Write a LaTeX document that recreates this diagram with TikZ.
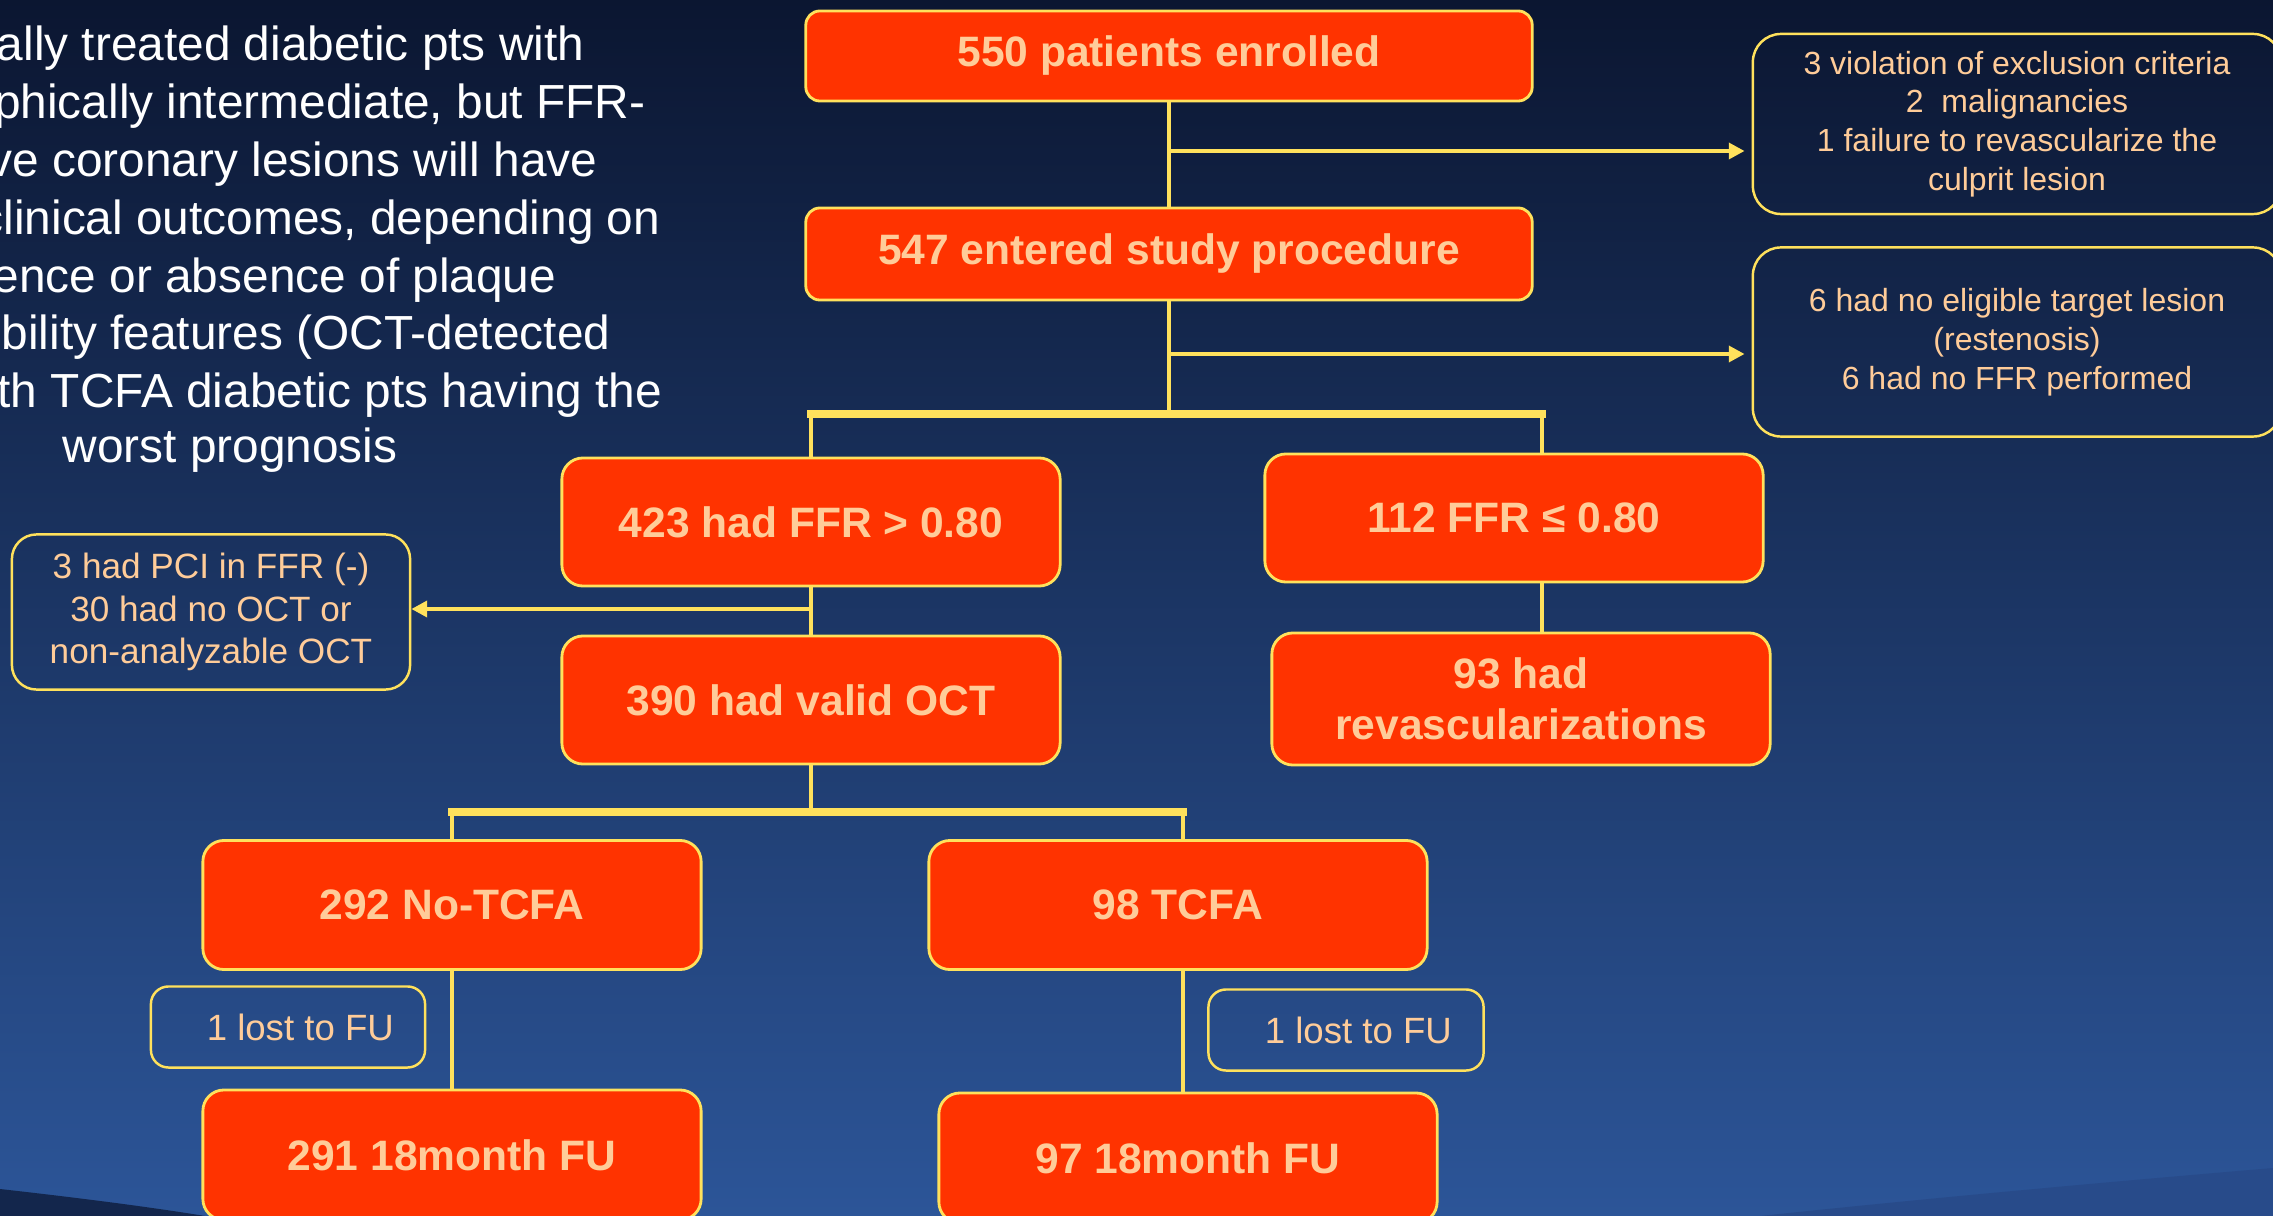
\documentclass[tikz,border=0pt]{standalone}
\usepackage{fontspec}
\setmainfont{Liberation Sans}
\usetikzlibrary{arrows.meta}

\definecolor{boxorange}{HTML}{FF3300}
\definecolor{lineyellow}{HTML}{FFE15C}
\definecolor{peach}{HTML}{FFCC99}
\definecolor{bgtop}{HTML}{0B1631}
\definecolor{bgmid}{HTML}{1A2E5C}
\definecolor{bgbot}{HTML}{2C5598}
\definecolor{bgdark}{HTML}{13264C}
\definecolor{bgband}{HTML}{284B8A}

\tikzset{
  countbox/.style={rectangle, rounded corners=6pt, fill=boxorange, draw=lineyellow,
    line width=0.8pt, text=peach, font=\bfseries\fontsize{12.1}{14.5}\selectfont,
    align=center, inner sep=0pt, minimum width=4.98cm, minimum height=1.28cm},
  notebox/.style={rectangle, rounded corners=8pt, draw=lineyellow, line width=0.7pt,
    text=peach, align=center, inner sep=0pt},
  flowline/.style={draw=lineyellow, line width=1.2pt},
  splitbar/.style={draw=lineyellow, line width=2pt, line cap=rect},
  exitarrow/.style={flowline, shorten >=2pt, -{Triangle[length=4.5pt,width=4.5pt]}},
}

\begin{document}
\begin{tikzpicture}[x=0.01cm, y=-0.01cm]
  \useasboundingbox (0,0) rectangle (2273,1216);
  % background
  \shade[top color=bgtop, middle color=bgmid, bottom color=bgbot] (0,0) rectangle (2273,1216);
  \fill[bgdark] (0,1189) .. controls (80,1198) and (150,1207) .. (205,1216) -- (0,1216) -- cycle;
  \fill[bgband] (1760,1216) .. controls (1950,1196) and (2120,1181) .. (2273,1168) -- (2273,1216) -- cycle;

  % conclusion text, cut at the left edge
  \begin{scope}[every node/.style={anchor=base east, inner sep=0pt, text=white,
      font=\fontsize{13.6}{16.4}\selectfont}]
    \node (t1) at (585,61) {ally treated diabetic pts with};
    \node (t2) at (646,119) {phically intermediate, but FFR-};
    \node (t3) at (598,177) {ve coronary lesions will have};
    \node (t4) at (661,235) {clinical outcomes, depending on};
    \node (t5) at (557,293) {ence or absence of plaque};
    \node (t6) at (611,350) {bility features (OCT-detected};
    \node (t7) at (663,408) {th TCFA diabetic pts having the};
    \node[anchor=base] (t8) at (230,463) {worst prognosis};
  \end{scope}

  % flow boxes
  \node[countbox, minimum width=7.26cm, minimum height=0.9cm, rounded corners=4pt] (enrolled) at (1169,56) {550 patients enrolled};
  \node[countbox, minimum width=7.26cm, minimum height=0.92cm, rounded corners=4pt] (entered) at (1169,254) {547 entered study procedure};
  \node[countbox] (ffrhigh) at (811,522) {423 had FFR > 0.80};
  \node[countbox] (ffrlow) at (1514,518) {112 FFR ≤ 0.80};
  \node[countbox] (oct) at (811,700) {390 had valid OCT};
  \node[countbox, minimum height=1.32cm] (revasc) at (1521,699) {93 had\\revascularizations};
  \node[countbox, minimum height=1.29cm] (notcfa) at (452,905) {292 No-TCFA};
  \node[countbox, minimum height=1.29cm] (tcfa) at (1178,905) {98 TCFA};
  \node[countbox, minimum height=1.3cm] (fuA) at (452,1155) {291 18month FU};
  \node[countbox, minimum height=1.3cm] (fuB) at (1188,1158) {97 18month FU};

  % exclusion notes
  \node[notebox, minimum width=5.28cm, minimum height=1.8cm, font=\fontsize{9.1}{11}\selectfont] (exclA) at (2017,124)
    {3 violation of exclusion criteria\\2\ \ malignancies\\1 failure to revascularize the\\culprit lesion};
  \node[notebox, minimum width=5.28cm, minimum height=1.89cm, font=\fontsize{9.1}{11.1}\selectfont] (exclB) at (2017,342)
    {6 had no eligible target lesion\\(restenosis)\\6 had no FFR performed};
  \node[notebox, minimum width=3.98cm, minimum height=1.55cm, rounded corners=7pt, font=\fontsize{10}{12}\selectfont] (pci) at (211,612)
    {3 had PCI in FFR (-)\\30 had no OCT or\\non-analyzable OCT};
  \node[notebox, minimum width=2.74cm, minimum height=0.81cm, rounded corners=5pt, font=\fontsize{10.4}{12}\selectfont] (lostA) at (288,1027)
    {\hspace*{7pt}1 lost to FU};
  \node[notebox, minimum width=2.75cm, minimum height=0.81cm, rounded corners=5pt, font=\fontsize{10.4}{12}\selectfont] (lostB) at (1346,1030)
    {\hspace*{7pt}1 lost to FU};

  % connectors
  \coordinate (exitA) at (1169,151);
  \coordinate (exitB) at (1169,354);
  \coordinate (splitA) at (1169,414);
  \coordinate (barAl) at (811,414);
  \coordinate (barAr) at (1542,414);
  \coordinate (exitC) at (811,609);
  \coordinate (splitB) at (811,812);
  \coordinate (barBl) at (452,812);
  \coordinate (barBr) at (1183,812);

  \draw[flowline] (enrolled.south) -- (entered.north);
  \draw[exitarrow] (exitA) -- (exitA -| exclA.west);
  \draw[flowline] (entered.south) -- (splitA);
  \draw[exitarrow] (exitB) -- (exitB -| exclB.west);
  \draw[splitbar] (barAl) -- (barAr);
  \draw[flowline] (barAl) -- (ffrhigh.north);
  \draw[flowline] (barAr) -- (barAr |- ffrlow.north);
  \draw[flowline] (ffrlow.south -| barAr) -- (revasc.north -| barAr);
  \draw[flowline] (ffrhigh.south) -- (oct.north);
  \draw[exitarrow, shorten >=0pt] (exitC) -- (exitC -| pci.east);
  \draw[flowline] (oct.south) -- (splitB);
  \draw[splitbar] (barBl) -- (barBr);
  \draw[flowline] (barBl) -- (notcfa.north);
  \draw[flowline] (barBr) -- (barBr |- tcfa.north);
  \draw[flowline] (notcfa.south) -- (fuA.north);
  \draw[flowline] (tcfa.south -| barBr) -- (fuB.north -| barBr);
\end{tikzpicture}
\end{document}
